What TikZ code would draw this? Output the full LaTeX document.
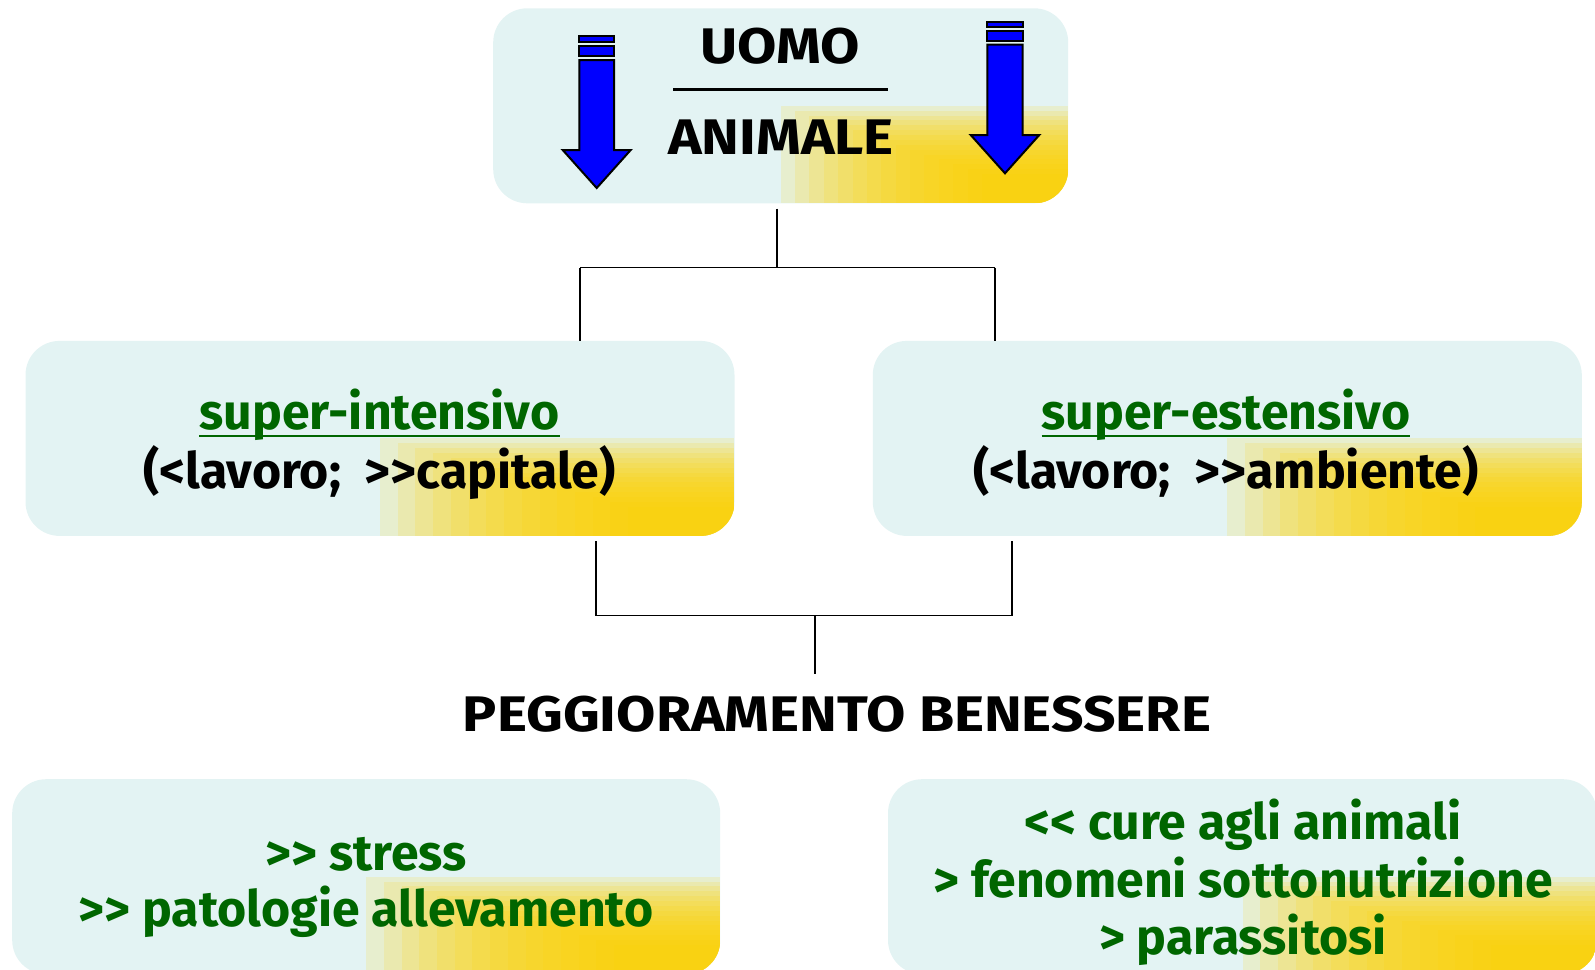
\documentclass[tikz,border=0pt]{standalone}
\usepackage{fontspec}
\setmainfont{Fira Sans}
\usetikzlibrary{calc}
\definecolor{boxcyan}{RGB}{227,243,243}
\definecolor{boxgold}{RGB}{255,210,0}
\definecolor{txtgreen}{RGB}{0,102,0}
\definecolor{arrowblue}{RGB}{0,0,255}
\newcommand{\capsw}[1]{\scalebox{1.14}[1]{#1}}
\begin{document}
\begin{tikzpicture}[x=1pt,y=-1pt,
  panel/.style={fill=boxcyan, draw=none, rounded corners=34pt, inner sep=0pt,
    path picture={
      \foreach \t in {0,0.05,...,0.71}{
        \fill[boxgold, opacity=0.15, sharp corners]
          ($(path picture bounding box.center)!\t!(path picture bounding box.south east)$)
          rectangle (path picture bounding box.south east);
      }}},
  lbl/.style={font=\fontsize{50}{58}\selectfont\bfseries, inner sep=0pt, anchor=base},
  blk/.style={lbl, text=black},
  grn/.style={lbl, text=txtgreen},
  uline/.style={draw=txtgreen, line width=2.6pt},
  conn/.style={draw=black, line width=1.6pt},
  barrow/.style={fill=arrowblue, draw=black, line width=2pt, line join=miter}
]
\useasboundingbox (0,0) rectangle (1595,969);
\clip (0,0) rectangle (1595,969);

% panels
\node[panel, minimum width=575pt, minimum height=195pt] (top) at (780.7,105.8) {};
\node[panel, minimum width=709pt, minimum height=195pt] (midL) at (380,438.4) {};
\node[panel, minimum width=709pt, minimum height=195pt] (midR) at (1227.3,438.4) {};
\node[panel, minimum width=708pt, minimum height=195pt] (botL) at (366.2,876.7) {};
\node[panel, minimum width=709pt, minimum height=195pt] (botR) at (1242.5,876.7) {};

% arrows in top panel
\draw[barrow] (579.3,36) rectangle (614,42);
\draw[barrow] (579.3,46) rectangle (614,56);
\draw[barrow] (579.3,60) -- (614,60) -- (614,150) -- (630.7,150) -- (596.7,188)
  -- (562.7,150) -- (579.3,150) -- cycle;
\draw[barrow] (987.3,21.7) rectangle (1022.7,26.7);
\draw[barrow] (987.3,31) rectangle (1022.7,40.7);
\draw[barrow] (987.3,44.7) -- (1022.7,44.7) -- (1022.7,135) -- (1039.3,135) -- (1005,173.3)
  -- (970.7,135) -- (987.3,135) -- cycle;

% top texts
\node[blk] (uomo) at (780,63) {\capsw{UOMO}};
\draw[line width=3pt] (673.4,89.5) -- (888,89.5);
\node[blk] (animale) at (781,154.6) {\capsw{ANIMALE}};

% middle texts
\node[grn] (sint) at (379.5,429) {super-intensivo};
\draw[uline] ($(sint.base west)+(0,7)$) -- ($(sint.base east)+(0,7)$);
\node[blk] (sintb) at (379.5,488) {(<lavoro;~~>{}>capitale)};
\node[grn] (sest) at (1226,429) {super-estensivo};
\draw[uline] ($(sest.base west)+(0,7)$) -- ($(sest.base east)+(0,7)$);
\node[blk] (sestb) at (1226,488) {(<lavoro;~~>{}>ambiente)};

% result
\node[blk] (pegg) at (837,731) {\capsw{PEGGIORAMENTO BENESSERE}};

% bottom texts
\node[grn] (b1) at (366,870) {>{}> stress};
\node[grn] (b2) at (366,926) {>{}> patologie allevamento};
\node[grn] (c1) at (1243,839) {<{}< cure agli animali};
\node[grn] (c2) at (1243,897) {> fenomeni sottonutrizione};
\node[grn] (c3) at (1243,954) {> parassitosi};

% connectors
\coordinate (j1) at (777,267.5);
\coordinate (j1l) at (580,267.5);
\coordinate (j1r) at (995,267.5);
\draw[conn] ($(top.south)+(-3.7,5)$) -- (j1);
\draw[conn] (j1l) -- (j1r);
\draw[conn] (j1l) -- (j1l |- midL.north);
\draw[conn] (j1r) -- (j1r |- midR.north);

\coordinate (j2l) at (596,615.4);
\coordinate (j2r) at (1012,615.4);
\coordinate (j2) at (815,615.4);
\draw[conn] ($(j2l |- midL.south)+(0,5)$) -- (j2l) -- (j2r) -- ($(j2r |- midR.south)+(0,5)$);
\draw[conn] (j2) -- (815,674);
\end{tikzpicture}
\end{document}
